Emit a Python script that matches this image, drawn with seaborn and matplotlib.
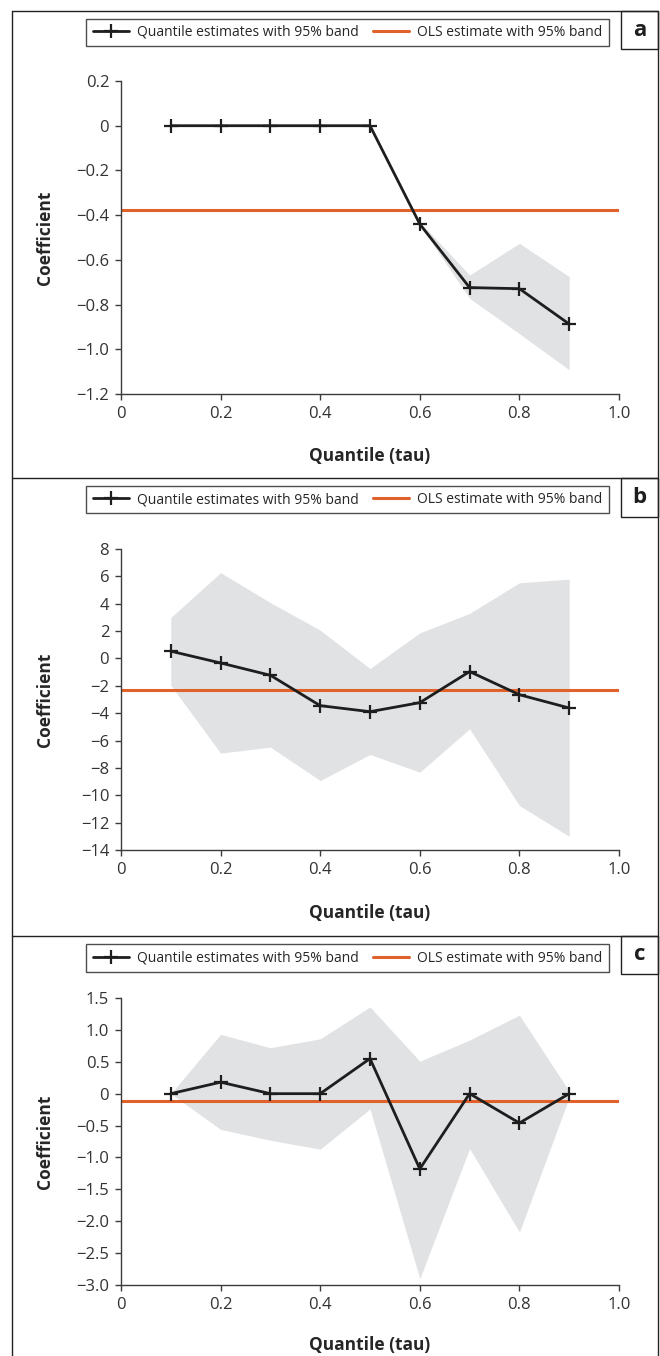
import matplotlib
matplotlib.use("Agg")
import matplotlib.pyplot as plt
from matplotlib.patches import Rectangle
from matplotlib.lines import Line2D
from matplotlib.ticker import FuncFormatter
import seaborn as sns

# quantiles (tau)
tau = [0.1, 0.2, 0.3, 0.4, 0.5, 0.6, 0.7, 0.8, 0.9]

# panel a
a_est = [0, 0, 0, 0, 0, -0.44, -0.724, -0.729, -0.887]
a_low = [0, 0, 0, 0, 0, -0.445, -0.772, -0.93, -1.092]
a_high = [0, 0, 0, 0, 0, -0.43, -0.668, -0.526, -0.675]
a_ols = -0.376
a_yticks = [0.2, 0, -0.2, -0.4, -0.6, -0.8, -1.0, -1.2]

# panel b
b_est = [0.53, -0.33, -1.23, -3.45, -3.89, -3.23, -0.96, -2.65, -3.62]
b_low = [-1.96, -6.92, -6.48, -8.92, -7.02, -8.31, -5.14, -10.75, -13.0]
b_high = [3.0, 6.27, 4.08, 2.07, -0.74, 1.87, 3.29, 5.53, 5.8]
b_ols = -2.28
b_yticks = [8, 6, 4, 2, 0, -2, -4, -6, -8, -10, -12, -14]

# panel c
c_est = [0, 0.18, 0, 0, 0.55, -1.18, 0, -0.46, 0]
c_low = [0, -0.56, -0.73, -0.87, -0.24, -2.9, -0.86, -2.17, -0.06]
c_high = [0, 0.93, 0.72, 0.86, 1.36, 0.51, 0.84, 1.23, 0.04]
c_ols = -0.12
c_yticks = [1.5, 1.0, 0.5, 0, -0.5, -1.0, -1.5, -2.0, -2.5, -3.0]

xticks = [0, 0.2, 0.4, 0.6, 0.8, 1.0]

W, H = 660, 1356
BAND = "#e1e2e4"
ORANGE = "#e0622a"
LINE = "#1e1e1e"
SPINE = "#3c3c3c"


def fx(px):
    return px / W


def fy(py):
    return 1 - py / H


def dec_fmt(v, pos):
    if abs(v) < 1e-9:
        return "0"
    return f"{v:.1f}".replace("-", "\u2212")


def int_fmt(v, pos):
    return f"{int(round(v))}".replace("-", "\u2212")


sns.set_style("white")
plt.rcParams["font.family"] = ["Open Sans", "DejaVu Sans"]

fig = plt.figure(figsize=(W / 100, H / 100), dpi=100)

# (est, low, high, ols, yticks, y formatter, letter, axes top/bottom px, legend y px, letter box px, xlabel y px)
panels = [
    (a_est, a_low, a_high, a_ols, a_yticks, dec_fmt, "a", 81, 394, 32.5, (11, 49), 456),
    (b_est, b_low, b_high, b_ols, b_yticks, int_fmt, "b", 549, 850, 499.5, (478, 517), 913),
    (c_est, c_low, c_high, c_ols, c_yticks, dec_fmt, "c", 998, 1285, 958, (936, 974), 1345),
]

for est, low, high, ols, yt, yfmt, letter, top, bot, leg_y, lbox, xl_y in panels:
    ax = fig.add_axes([fx(121), fy(bot), fx(619) - fx(121), fy(top) - fy(bot)])
    ax.fill_between(tau, low, high, color=BAND, linewidth=0, zorder=1)
    ax.axhline(ols, color=ORANGE, linewidth=2.2, zorder=2)
    sns.lineplot(x=tau, y=est, ax=ax, color=LINE, linewidth=2.0, marker="+",
                 markersize=10, markeredgewidth=1.6, markeredgecolor=LINE, zorder=3)

    ax.set_xlim(0, 1.0)
    ax.set_ylim(min(yt), max(yt))
    ax.set_xticks(xticks)
    ax.set_yticks(yt)
    ax.xaxis.set_major_formatter(FuncFormatter(dec_fmt))
    ax.yaxis.set_major_formatter(FuncFormatter(yfmt))
    ax.tick_params(axis="both", direction="out", length=4.5, width=1.0,
                   color=SPINE, labelsize=12, labelcolor="#333333", pad=4)
    ax.tick_params(axis="x", bottom=True)
    ax.tick_params(axis="y", left=True)
    for side in ["top", "right"]:
        ax.spines[side].set_visible(False)
    for side in ["left", "bottom"]:
        ax.spines[side].set_color(SPINE)
        ax.spines[side].set_linewidth(1.0)

    ax.set_ylabel("Coefficient", fontsize=12.5, fontweight="bold", va="center", ha="center")
    ax.yaxis.set_label_coords(-(121 - 45) / 498, 0.5)
    ax.set_xlabel("Quantile (tau)", fontsize=12.5, fontweight="bold", va="center", ha="center")
    ax.xaxis.set_label_coords(0.5, -(xl_y - bot) / (bot - top))

    handles = [
        Line2D([], [], color=LINE, linewidth=2.0, marker="+", markersize=10,
               markeredgewidth=1.6),
        Line2D([], [], color=ORANGE, linewidth=2.2),
    ]
    leg = fig.legend(handles, ["Quantile estimates with 95% band", "OLS estimate with 95% band"],
                     loc="center", bbox_to_anchor=(fx(347.5), fy(leg_y)), ncol=2,
                     frameon=True, fancybox=False, fontsize=10, handlelength=2.6,
                     handletextpad=0.6, columnspacing=1.0, borderpad=0.45)
    leg.get_frame().set_edgecolor("#222222")
    leg.get_frame().set_linewidth(1.0)

    # letter box
    fig.add_artist(Rectangle((fx(621), fy(lbox[1])), fx(658) - fx(621), fy(lbox[0]) - fy(lbox[1]),
                             transform=fig.transFigure, fill=False, edgecolor="#222222", linewidth=1.0))
    fig.text(fx(639.5), fy((lbox[0] + lbox[1]) / 2), letter, fontsize=16, fontweight="bold",
             ha="center", va="center", color="#1e1e1e")

# outer frames
for yy in [11, 478, 936]:
    fig.add_artist(Line2D([fx(12), fx(658)], [fy(yy), fy(yy)], transform=fig.transFigure,
                          color="#222222", linewidth=1.0))
for xx in [12, 658]:
    fig.add_artist(Line2D([fx(xx), fx(xx)], [fy(11), fy(1356)], transform=fig.transFigure,
                          color="#222222", linewidth=1.0))

fig.savefig("out.png", dpi=100)
